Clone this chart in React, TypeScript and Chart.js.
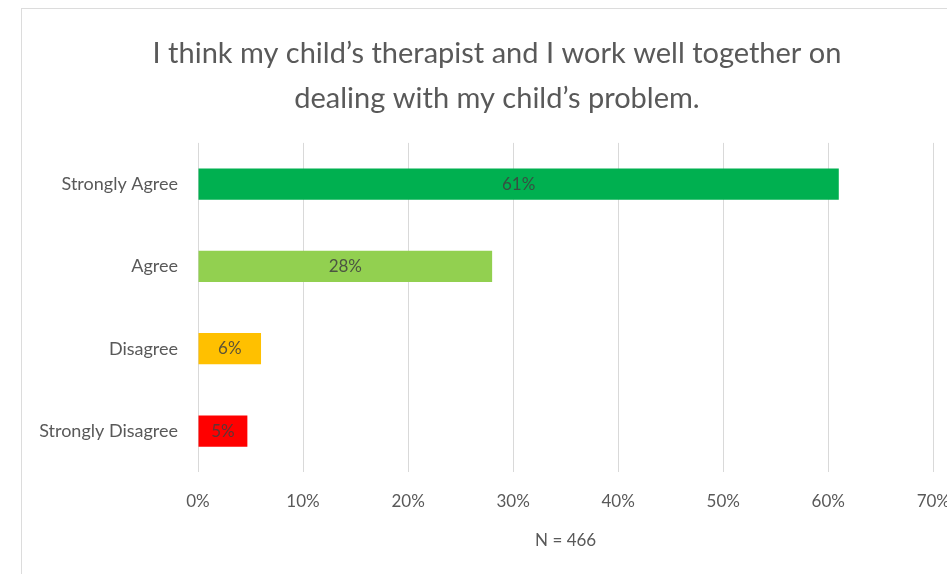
import React, { useEffect, useRef } from "react";
import { Chart, registerables } from "chart.js";

Chart.register(...registerables);

const titleLines = ["I think my child’s therapist and I work well together on", "dealing with my child’s problem."];
const categories = ["Strongly Agree", "Agree", "Disagree", "Strongly Disagree"];
const values = [61, 28, 6, 4.7];
const valueLabels = ["61%", "28%", "6%", "5%"];
const barColors = ["#00B050", "#92D050", "#FFC000", "#FF0000"];
const xTitle = "N = 466";

const FONT = "Lato, 'Open Sans', sans-serif";
const TEXT = "#595959";

const barLabelPlugin = {
  id: "barLabels",
  afterDatasetsDraw(chart: any) {
    const meta = chart.getDatasetMeta(0);
    const ctx = chart.ctx;
    ctx.save();
    ctx.font = `17px ${FONT}`;
    ctx.fillStyle = "rgba(64,64,64,0.85)";
    ctx.textAlign = "center";
    ctx.textBaseline = "middle";
    meta.data.forEach((el: any, i: number) => {
      const cx = (el.x + el.base) / 2;
      ctx.fillText(valueLabels[i], cx, el.y);
    });
    ctx.restore();
  },
};

export default function App() {
  const ref = useRef<HTMLCanvasElement>(null);
  useEffect(() => {
    if (!ref.current) return;
    const chart = new Chart(ref.current, {
      type: "bar",
      data: {
        labels: categories,
        datasets: [
          {
            data: values,
            backgroundColor: barColors,
            borderWidth: 0,
            categoryPercentage: 1,
            barPercentage: 0.38,
          },
        ],
      },
      plugins: [barLabelPlugin],
      options: {
        indexAxis: "y",
        animation: false,
        responsive: false,
        maintainAspectRatio: false,
        layout: { padding: { left: 3, right: 0, top: 0, bottom: 0 } },
        plugins: {
          legend: { display: false },
          tooltip: { enabled: false },
          title: {
            display: true,
            text: titleLines,
            color: TEXT,
            font: { family: FONT, size: 29, weight: "normal", lineHeight: 1.55 },
            padding: { top: 22, bottom: 22 },
          },
        },
        scales: {
          x: {
            min: 0,
            max: 70,
            ticks: {
              stepSize: 10,
              color: TEXT,
              font: { family: FONT, size: 17 },
              padding: 19,
              callback: (v: any) => `${v}%`,
            },
            grid: { color: "#d9d9d9", drawTicks: false },
            border: { display: false },
            title: {
              display: true,
              text: xTitle,
              color: TEXT,
              font: { family: FONT, size: 17 },
              padding: { top: 0, bottom: 23 },
            },
          },
          y: {
            afterFit: (scale: any) => {
              scale.width = 173;
            },
            ticks: {
              color: TEXT,
              font: { family: FONT, size: 18 },
              padding: 20,
            },
            grid: { display: false, drawTicks: false },
            border: { display: false },
          },
        },
      },
    });
    return () => chart.destroy();
  }, []);

  return (
    <div
      style={{
        position: "absolute",
        left: 0,
        top: 0,
        width: 947,
        height: 574,
        overflow: "hidden",
        background: "#fff",
      }}
    >
      <div style={{ position: "absolute", left: 21, top: 8, width: 926, height: 1, background: "#dcdcdc" }} />
      <div style={{ position: "absolute", left: 21, top: 8, width: 1, height: 566, background: "#dcdcdc" }} />
      <canvas
        ref={ref}
        width={947}
        height={565}
        style={{ position: "absolute", left: 22, top: 9, width: 947, height: 565 }}
      />
    </div>
  );
}
